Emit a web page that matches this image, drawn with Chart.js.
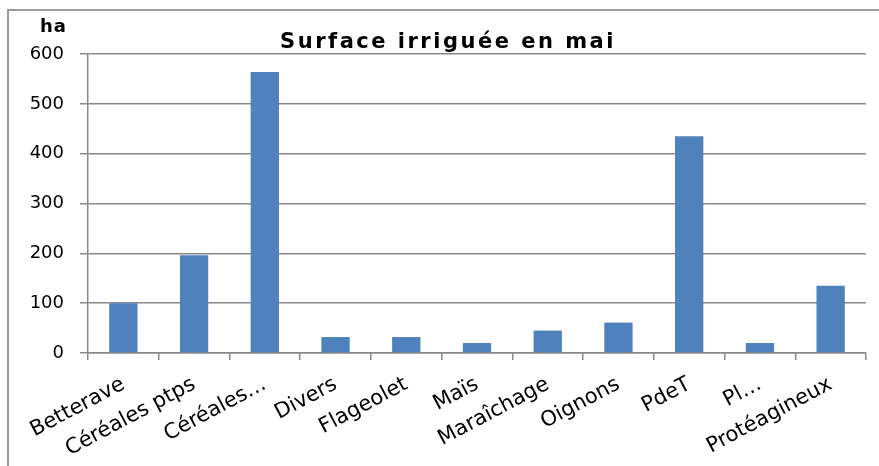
<!DOCTYPE html>
<html>
<head>
<meta charset="utf-8">
<script src="https://cdn.jsdelivr.net/npm/chart.js@4"></script>
<style>
  html, body { margin: 0; padding: 0; background: #fff; overflow: hidden; }
  #frame { position: absolute; left: 7px; top: 9px; width: 900px; height: 500px; border: 2px solid #9a9a9a; box-sizing: border-box; }
  #wrap { position: absolute; left: 0; top: 0; width: 879px; height: 466px; }
</style>
</head>
<body>
<div id="frame"></div>
<div id="wrap"><canvas id="chart" width="879" height="466"></canvas></div>
<script>
// categories and values (ha)
const categories = ['Betterave', 'Céréales ptps', 'Céréales…', 'Divers', 'Flageolet', 'Maïs',
  'Maraîchage', 'Oignons', 'PdeT', 'Pl…', 'Protéagineux'];
const surface = [100, 196, 564, 32, 32, 20, 45, 61, 435, 20, 135];
const yTicks = [0, 100, 200, 300, 400, 500, 600];

const chartTitle = 'Surface irriguée en mai';
const unitLabel = 'ha';

const FONT = '"DejaVu Sans", Verdana, sans-serif';

// title and unit drawn as text on top of the chart
const textPlugin = {
  id: 'texts',
  afterDraw(chart) {
    const ctx = chart.ctx;
    ctx.save();
    ctx.fillStyle = '#000';
    ctx.textBaseline = 'alphabetic';
    ctx.font = 'bold 21px ' + FONT;
    ctx.letterSpacing = '2.5px';
    ctx.textAlign = 'center';
    ctx.fillText(chartTitle, 448, 48);
    ctx.font = 'bold 18px ' + FONT;
    ctx.letterSpacing = '1px';
    ctx.textAlign = 'left';
    ctx.fillText(unitLabel, 40, 32);
    ctx.restore();
  }
};

new Chart(document.getElementById('chart'), {
  type: 'bar',
  data: {
    labels: categories,
    datasets: [{
      label: 'Surface',
      data: surface,
      backgroundColor: '#4F81BD',
      borderWidth: 0,
      barPercentage: 0.4,
      categoryPercentage: 1.0
    }]
  },
  options: {
    responsive: false,
    animation: false,
    layout: { padding: { left: 0, right: 13, top: 54, bottom: 0 } },
    plugins: {
      legend: { display: false },
      title: { display: false },
      tooltip: { enabled: false }
    },
    scales: {
      x: {
        offset: true,
        afterFit(scale) { scale.height = 113; },
        border: { color: '#888', width: 1.5 },
        grid: { drawOnChartArea: false, drawTicks: true, tickLength: 7, color: '#888', lineWidth: 1.5, offset: true },
        ticks: {
          color: '#000',
          font: { family: FONT, size: 21 },
          minRotation: 28,
          maxRotation: 28,
          autoSkip: false,
          padding: 12
        }
      },
      y: {
        min: 0,
        max: 600,
        afterFit(scale) { scale.width = 88; },
        afterBuildTicks(scale) { scale.ticks = yTicks.map(v => ({ value: v })); },
        border: { color: '#888', width: 1.5 },
        grid: { color: '#888', lineWidth: 1.5, tickLength: 8 },
        ticks: {
          color: '#000',
          font: { family: FONT, size: 18 },
          padding: 16
        }
      }
    }
  },
  plugins: [textPlugin]
});
</script>
</body>
</html>
